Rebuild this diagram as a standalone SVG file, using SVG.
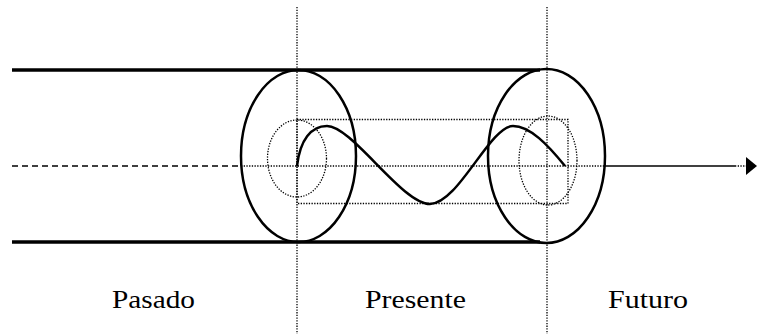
<svg xmlns="http://www.w3.org/2000/svg" width="757" height="334" viewBox="0 0 757 334">
<style>
.thick{stroke:#000;stroke-width:3.5;fill:none}
.ell{stroke:#000;stroke-width:2.5;fill:none}
.dot{stroke:#000;stroke-width:1.3;stroke-dasharray:1.3,1.4;fill:none}
.dash{stroke:#000;stroke-width:1.5;stroke-dasharray:6,4;fill:none}
.solid{stroke:#000;stroke-width:1.5;fill:none}
.lbl{font-family:"Liberation Serif","Times New Roman",serif;font-size:26px;fill:#000}
</style>
<rect width="757" height="334" fill="#fff"/>
<g id="guides">
<line class="dot" x1="297" y1="7" x2="297" y2="334"/>
<line class="dot" x1="547" y1="7" x2="547" y2="334"/>
</g>
<g id="cylinder">
<line class="thick" x1="12" y1="70" x2="540" y2="70"/>
<line class="thick" x1="12" y1="242" x2="540" y2="242"/>
<rect class="dot" x="297" y="119.5" width="271" height="84"/>
</g>
<g id="past-ring">
<ellipse class="ell" cx="298.5" cy="156" rx="57.5" ry="86"/>
<ellipse class="dot" cx="297" cy="158.5" rx="29.5" ry="38.5"/>
</g>
<g id="future-ring">
<ellipse class="ell" cx="546.5" cy="156" rx="58.5" ry="87"/>
<ellipse class="dot" cx="548" cy="160.5" rx="29" ry="44.5"/>
</g>
<g id="connectors">
<line class="dash" x1="12" y1="166" x2="241" y2="166"/>
<line class="dot" x1="241" y1="166" x2="605" y2="166"/>
<line class="solid" x1="605" y1="166" x2="735" y2="166"/>
<line class="dot" x1="735" y1="166" x2="746" y2="166"/>
<polygon points="746,157 757,166 746,175" fill="#000"/>
<path class="ell" d="M297,166 C300,140 311,126 327,126 C352,126 402,204 430,204 C458,204 490,126 513,126 C530,126 548,145 565,166"/>
</g>
<g id="labels">
<text class="lbl" x="112" y="308" textLength="83" lengthAdjust="spacingAndGlyphs">Pasado</text>
<text class="lbl" x="365" y="308" textLength="101" lengthAdjust="spacingAndGlyphs">Presente</text>
<text class="lbl" x="608" y="308" textLength="80" lengthAdjust="spacingAndGlyphs">Futuro</text>
</g>
</svg>
